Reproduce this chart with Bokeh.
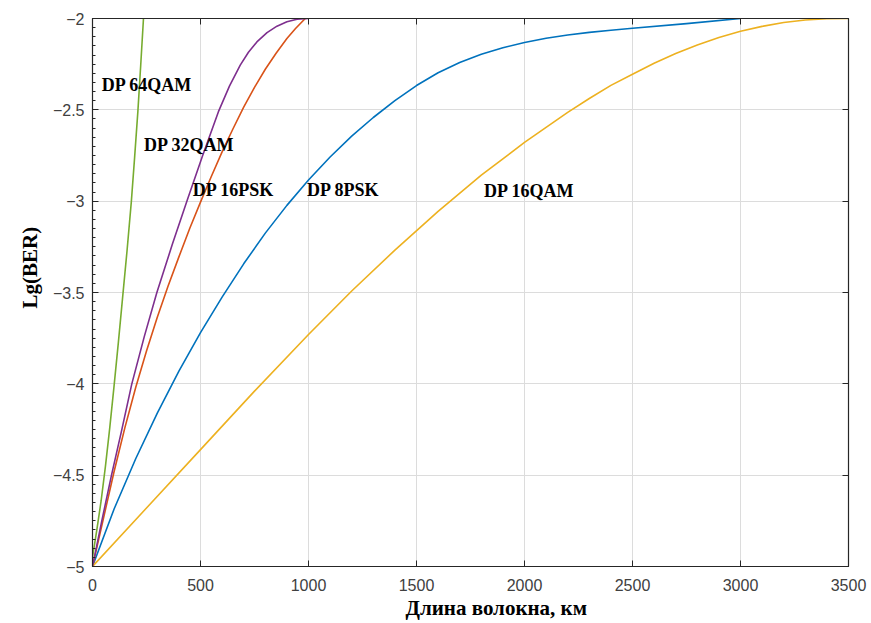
from bokeh.plotting import figure
from bokeh.models import Label, LinearAxis, Range1d, FixedTicker, ColumnDataSource, Title
from bokeh.embed import file_html
from bokeh.resources import INLINE

# Fibre length (km) versus lg(BER) for each dual-polarisation format
len_64qam = [0, 20, 40, 60, 80, 100, 120, 140, 160, 180, 195, 210, 223, 236]
ber_64qam = [-4.95, -4.8, -4.64, -4.45, -4.24, -4.01, -3.77, -3.52, -3.27, -3.0, -2.76,
             -2.51, -2.26, -2.0]

len_32qam = [0, 44, 88, 135, 182, 240, 298, 370, 440, 510, 583, 634, 684, 722, 761,
             808, 854, 900, 947, 1000]
ber_32qam = [-5.0, -4.745, -4.5, -4.255, -4.0, -3.74, -3.5, -3.235, -2.99, -2.75, -2.51,
             -2.37, -2.255, -2.185, -2.128, -2.077, -2.042, -2.018, -2.004, -2.0]

len_16psk = [0, 50, 100, 150, 200, 250, 300, 350, 400, 450, 500, 550, 600, 650, 700,
             750, 800, 850, 900, 940, 985]
ber_16psk = [-5.0, -4.74, -4.48, -4.24, -4.02, -3.82, -3.635, -3.465, -3.305, -3.15,
             -3.005, -2.865, -2.73, -2.605, -2.485, -2.377, -2.278, -2.19, -2.11, -2.055,
             -2.0]

len_8psk = [0, 100, 200, 300, 400, 500, 600, 700, 800, 900, 1000, 1100, 1200, 1300,
            1400, 1500, 1600, 1700, 1800, 1900, 2000, 2100, 2200, 2300, 2400, 2500,
            2750, 3000]
ber_8psk = [-5.0, -4.685, -4.41, -4.16, -3.93, -3.72, -3.525, -3.343, -3.175, -3.023,
            -2.884, -2.758, -2.644, -2.542, -2.45, -2.367, -2.297, -2.241, -2.196, -2.16,
            -2.131, -2.108, -2.09, -2.076, -2.064, -2.053, -2.028, -2.0]

len_16qam = [0, 250, 500, 750, 1000, 1200, 1400, 1600, 1800, 2000, 2200, 2300, 2400,
             2500, 2600, 2700, 2800, 2900, 3000, 3100, 3200, 3300, 3400, 3500]
ber_16qam = [-5.0, -4.68, -4.36, -4.04, -3.73, -3.492, -3.268, -3.056, -2.858, -2.678,
             -2.514, -2.438, -2.366, -2.305, -2.245, -2.192, -2.145, -2.104, -2.07,
             -2.043, -2.022, -2.008, -2.001, -2.0]

# Curve labels: text and anchor (km, lg BER)
label_text = ["DP 64QAM", "DP 32QAM", "DP 16PSK", "DP 8PSK", "DP 16QAM"]
label_x = [43, 239, 464, 993, 1812]
label_y = [-2.364, -2.693, -2.94, -2.94, -2.945]

x_ticks = [0, 500, 1000, 1500, 2000, 2500, 3000, 3500]
y_ticks = [-5, -4.5, -4, -3.5, -3, -2.5, -2]

x_title = "Длина волокна, км"
y_title = "Lg(BER)"

AX = "#262626"
TICK_FONT = "Liberation Sans"
SERIF = "Liberation Serif"

p = figure(width=871, height=623, x_range=Range1d(0, 3500), y_range=Range1d(-5, -2),
           output_backend="svg", toolbar_location=None,
           min_border_left=92, min_border_right=23, min_border_top=18, min_border_bottom=57)
p.background_fill_color = "white"
p.border_fill_color = "white"
p.outline_line_color = AX
p.outline_line_width = 1

xt = FixedTicker(ticks=x_ticks)
yt = FixedTicker(ticks=y_ticks, minor_ticks=[-5 + 0.05 * i for i in range(61)])

for ax in p.xaxis:
    ax.ticker = xt
for ax in p.yaxis:
    ax.ticker = yt

p.xgrid.ticker = xt
p.ygrid.ticker = FixedTicker(ticks=y_ticks)
p.xgrid.grid_line_color = "#dcdcdc"
p.ygrid.grid_line_color = "#dcdcdc"
p.xgrid.grid_line_width = 1
p.ygrid.grid_line_width = 1

def style_axis(ax, labels=True):
    ax.axis_line_color = AX
    ax.axis_line_width = 1.2
    ax.major_tick_line_color = AX
    ax.major_tick_in = 6
    ax.major_tick_out = 0
    ax.minor_tick_line_color = None
    if labels:
        ax.major_label_text_font = TICK_FONT
        ax.major_label_text_font_size = "16px"
        ax.major_label_text_color = "#404040"
    else:
        ax.major_label_text_font_size = "0px"
        ax.major_label_text_color = None

for ax in p.xaxis:
    style_axis(ax)
    ax.major_label_standoff = 12
for ax in p.yaxis:
    style_axis(ax)
    ax.major_label_standoff = 8
    ax.minor_tick_line_color = AX
    ax.minor_tick_in = 3
    ax.minor_tick_out = 0

top = LinearAxis(ticker=xt)
style_axis(top, labels=False)
p.add_layout(top, "above")
right = LinearAxis(ticker=FixedTicker(ticks=y_ticks))
style_axis(right, labels=False)
p.add_layout(right, "right")

series = [
    (len_8psk, ber_8psk, "#0072BD"),
    (len_16psk, ber_16psk, "#D95319"),
    (len_16qam, ber_16qam, "#EDB120"),
    (len_32qam, ber_32qam, "#7E2F8E"),
    (len_64qam, ber_64qam, "#77AC30"),
]
for xs, ys, col in series:
    src = ColumnDataSource(dict(x=xs, y=ys))
    p.line("x", "y", source=src, line_color=col, line_width=1.6, line_join="round")

for t, x, y in zip(label_text, label_x, label_y):
    p.add_layout(Label(x=x, y=y, text=t, text_font=SERIF, text_font_style="bold",
                       text_font_size="18px", text_color="black",
                       text_align="left", text_baseline="middle"))

# Axis titles as side titles, positioned from the start of their panels
p.add_layout(Title(text=x_title, align="left", offset=313, standoff=0,
                   text_font=SERIF, text_font_style="bold", text_font_size="21px",
                   text_color="black"), "below")
p.add_layout(Title(text=y_title, align="left", offset=258, standoff=16,
                   text_font=SERIF, text_font_style="bold", text_font_size="21px",
                   text_color="black"), "left")

open("out.html", "w").write(file_html(p, INLINE))
